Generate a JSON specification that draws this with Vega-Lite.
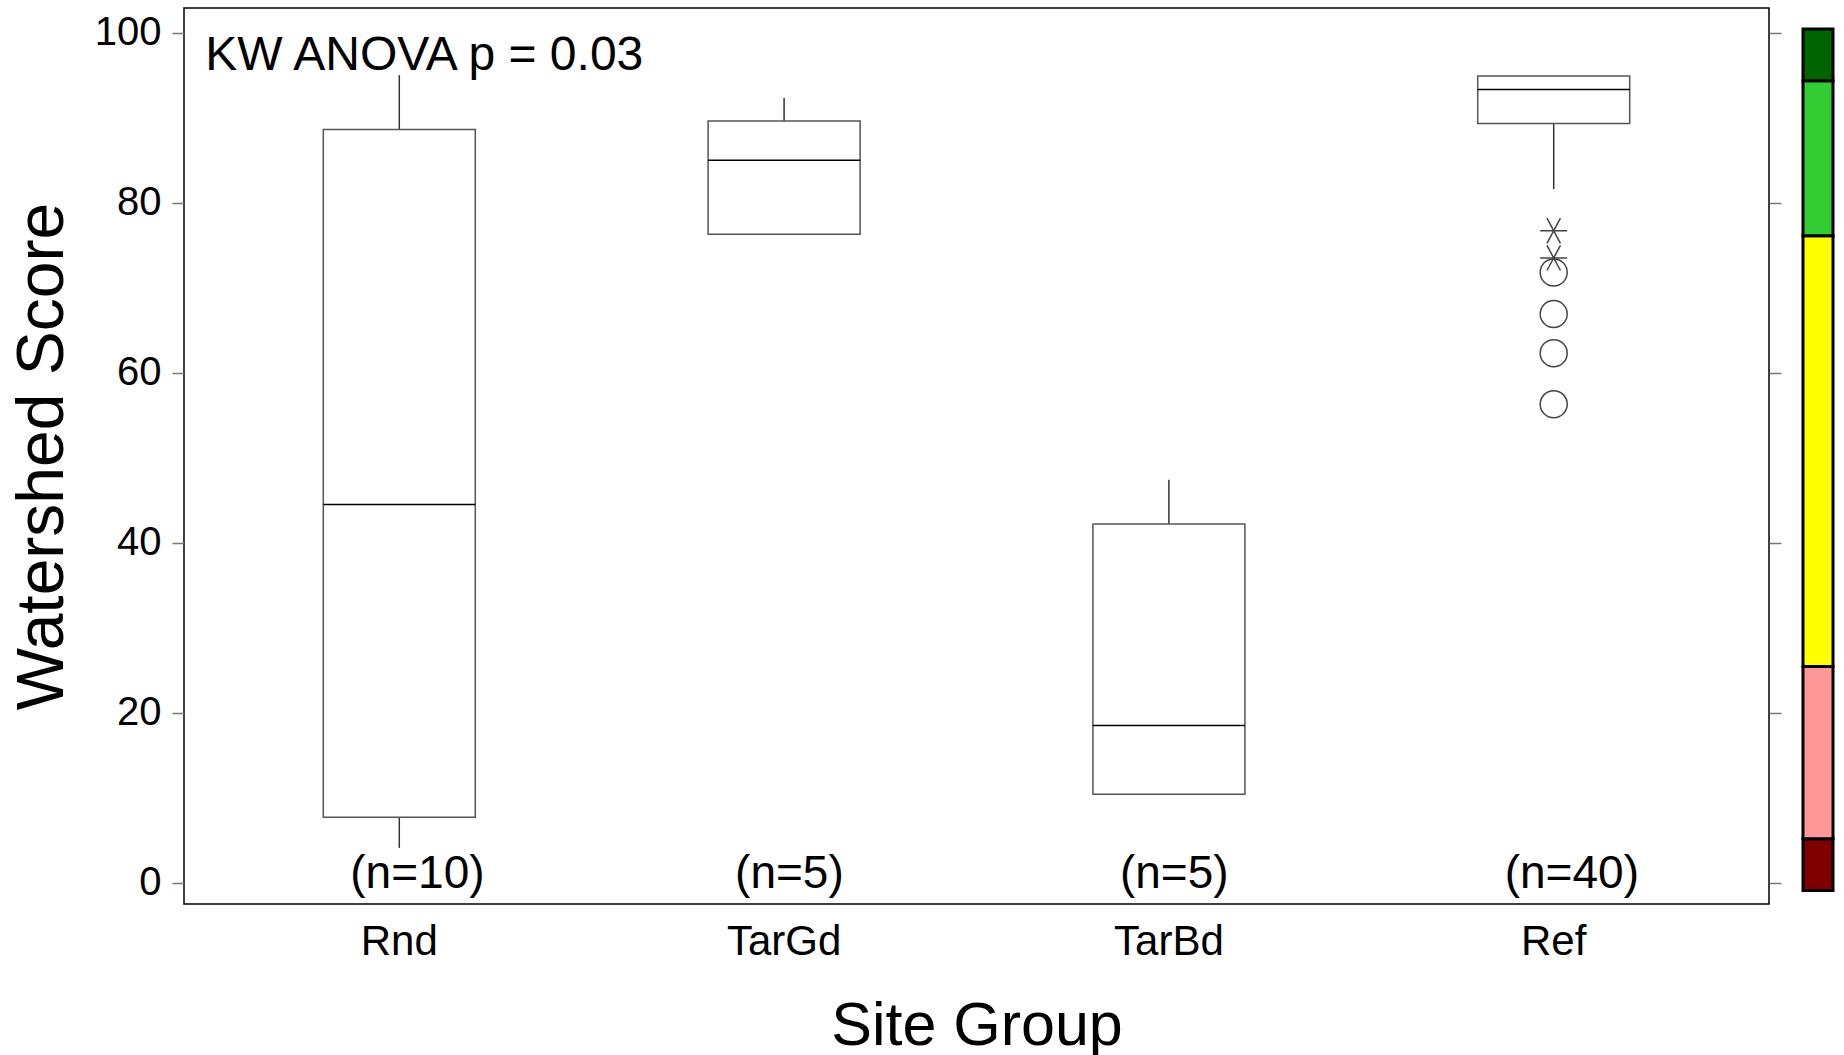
{
  "$schema": "https://vega.github.io/schema/vega-lite/v6.json",
  "padding": {"left": 8, "top": 7, "right": 5, "bottom": 5},
  "config": {"font": "Liberation Sans", "view": {"stroke": null}, "concat": {"spacing": 18}},
  "datasets": {
    "boxes": [
      {"group": "Rnd", "lower": 4.1, "q1": 7.7, "median": 44.5, "q3": 88.6, "upper": 95.0, "label": "(n=10)"},
      {"group": "TarGd", "lower": 76.2, "q1": 76.3, "median": 85.0, "q3": 89.6, "upper": 92.3, "label": "(n=5)"},
      {"group": "TarBd", "lower": 10.4, "q1": 10.4, "median": 18.5, "q3": 42.2, "upper": 47.4, "label": "(n=5)"},
      {"group": "Ref", "lower": 81.6, "q1": 89.3, "median": 93.3, "q3": 94.9, "upper": 94.9, "label": "(n=40)"}
    ],
    "outliers": [
      {"group": "Ref", "score": 76.7, "kind": "extreme"},
      {"group": "Ref", "score": 73.5, "kind": "extreme"},
      {"group": "Ref", "score": 71.8, "kind": "outlier"},
      {"group": "Ref", "score": 66.9, "kind": "outlier"},
      {"group": "Ref", "score": 62.3, "kind": "outlier"},
      {"group": "Ref", "score": 56.3, "kind": "outlier"}
    ],
    "bands": [
      {"lo": 0, "hi": 6, "rating": "1"},
      {"lo": 6, "hi": 26, "rating": "2"},
      {"lo": 26, "hi": 76, "rating": "3"},
      {"lo": 76, "hi": 94, "rating": "4"},
      {"lo": 94, "hi": 100, "rating": "5"}
    ],
    "note": [{"note": "KW ANOVA p = 0.03"}]
  },
  "hconcat": [
    {
      "width": 1585,
      "height": 896,
      "view": {"stroke": "black", "strokeWidth": 1.5},
      "resolve": {"axis": {"y": "independent"}},
      "layer": [
        {
          "data": {"name": "boxes"},
          "mark": {"type": "rule", "stroke": "#333", "strokeWidth": 1.5},
          "encoding": {
            "x": {"field": "group", "type": "nominal", "sort": ["Rnd", "TarGd", "TarBd", "Ref"],
              "scale": {"paddingInner": 0.605, "paddingOuter": 0.362},
              "title": "Site Group",
              "axis": {"ticks": false, "domain": false, "labelAngle": 0, "labelFontSize": 42, "labelPadding": 17, "labelColor": "black", "titleFontSize": 61, "titleFontWeight": "normal", "titlePadding": 34, "titleColor": "black"}},
            "y": {"field": "q1", "type": "quantitative",
              "scale": {"domain": [-2.5, 102.9], "nice": false, "zero": false},
              "title": "Watershed Score",
              "axis": {"values": [0, 20, 40, 60, 80, 100], "tickSize": 12, "tickColor": "#777", "tickWidth": 1.5, "domain": false, "grid": false, "labelFontSize": 40, "labelPadding": 11, "labelColor": "black", "titleFontSize": 66, "titleFontWeight": "normal", "titlePadding": 18, "titleColor": "black"}},
            "y2": {"field": "lower"}
          }
        },
        {
          "data": {"name": "boxes"},
          "mark": {"type": "rule", "stroke": "#333", "strokeWidth": 1.5},
          "encoding": {
            "x": {"field": "group", "type": "nominal", "sort": ["Rnd", "TarGd", "TarBd", "Ref"]},
            "y": {"field": "q3", "type": "quantitative",
              "axis": {"orient": "right", "values": [0, 20, 40, 60, 80, 100], "labels": false, "tickSize": 12, "tickColor": "#777", "tickWidth": 1.5, "domain": false, "grid": false, "title": null}},
            "y2": {"field": "upper"}
          }
        },
        {
          "data": {"name": "boxes"},
          "mark": {"type": "bar", "fill": "white", "stroke": "#555", "strokeWidth": 1.5},
          "encoding": {
            "x": {"field": "group", "type": "nominal", "sort": ["Rnd", "TarGd", "TarBd", "Ref"]},
            "y": {"field": "q1", "type": "quantitative", "axis": null},
            "y2": {"field": "q3"}
          }
        },
        {
          "data": {"name": "boxes"},
          "mark": {"type": "tick", "color": "black", "size": 152, "thickness": 1.5, "opacity": 1},
          "encoding": {
            "x": {"field": "group", "type": "nominal", "sort": ["Rnd", "TarGd", "TarBd", "Ref"]},
            "y": {"field": "median", "type": "quantitative", "axis": null}
          }
        },
        {
          "data": {"name": "outliers"},
          "mark": {"type": "point", "filled": false, "stroke": "#444", "strokeWidth": 1.5, "size": 729, "opacity": 1},
          "encoding": {
            "x": {"field": "group", "type": "nominal", "sort": ["Rnd", "TarGd", "TarBd", "Ref"]},
            "y": {"field": "score", "type": "quantitative", "axis": null},
            "shape": {"field": "kind", "type": "nominal",
              "scale": {"domain": ["extreme", "outlier"], "range": ["M-1,0L1,0M-0.5,-0.93L0.5,0.93M0.5,-0.93L-0.5,0.93", "circle"]},
              "legend": null}
          }
        },
        {
          "data": {"name": "boxes"},
          "mark": {"type": "text", "align": "left", "baseline": "middle", "dx": -49, "dy": -9, "fontSize": 46, "color": "black"},
          "encoding": {
            "x": {"field": "group", "type": "nominal", "sort": ["Rnd", "TarGd", "TarBd", "Ref"]},
            "y": {"datum": 0, "type": "quantitative", "axis": null},
            "text": {"field": "label"}
          }
        },
        {
          "data": {"name": "note"},
          "mark": {"type": "text", "align": "left", "baseline": "alphabetic", "dx": -194, "dy": 37, "fontSize": 48, "color": "black"},
          "encoding": {
            "x": {"datum": "Rnd", "type": "nominal"},
            "y": {"datum": 100, "type": "quantitative", "axis": null},
            "text": {"field": "note"}
          }
        }
      ]
    },
    {
      "width": 30,
      "height": 896,
      "view": {"stroke": null},
      "data": {"name": "bands"},
      "mark": {"type": "bar", "stroke": "black", "strokeWidth": 3},
      "encoding": {
        "x": {"datum": 0, "type": "quantitative", "scale": {"domain": [0, 1], "nice": false, "zero": false}, "axis": null},
        "x2": {"datum": 1},
        "y": {"field": "lo", "type": "quantitative", "scale": {"domain": [-1.57, 102.44], "nice": false, "zero": false}, "axis": null},
        "y2": {"field": "hi"},
        "color": {"field": "rating", "type": "nominal",
          "scale": {"domain": ["1", "2", "3", "4", "5"], "range": ["#800000", "#FF9999", "#FFFF00", "#33CC33", "#006400"]},
          "legend": null}
      }
    }
  ]
}
